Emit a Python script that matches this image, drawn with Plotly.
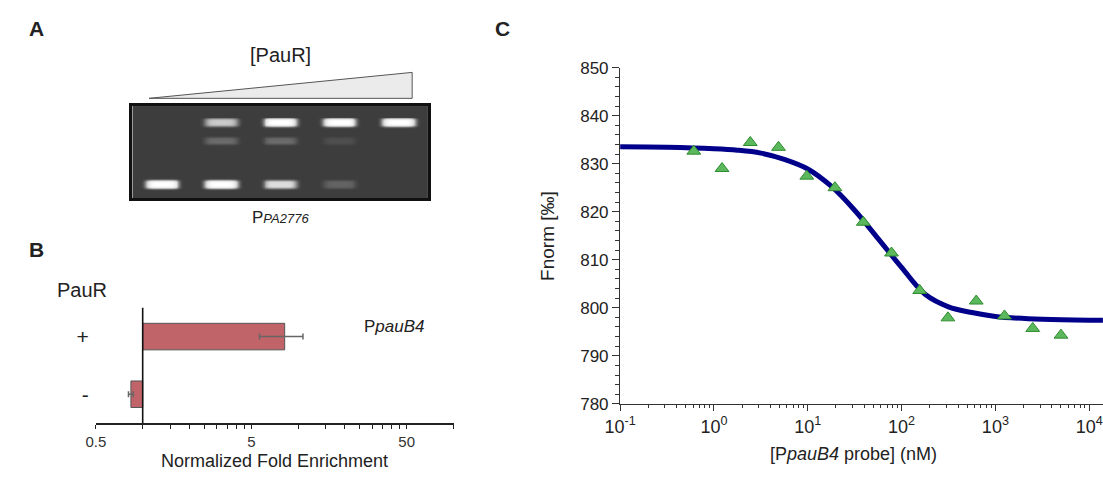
import numpy as np
import plotly.graph_objects as go

# ---- Panel A: EMSA gel (band intensities per lane) ----
gel_lanes = [1, 2, 3, 4, 5]
band_pos = [17, 36, 81]                      # complex, intermediate, free probe (gel rows)
complex_band = [0.0, 0.55, 1.0, 1.0, 1.0]
mid_band = [0.0, 0.18, 0.18, 0.07, 0.0]
free_band = [1.0, 1.0, 0.65, 0.15, 0.0]

# ---- Panel B: ChIP-qPCR ----
pau_labels = ["+", "-"]
fold_enrich = [8.2, 0.84]
fold_err = [2.55, 0.03]

# ---- Panel C: MST binding ----
probe_nM = [0.61, 1.22, 2.44, 4.88, 9.77, 19.5, 39.1, 78.1, 156, 312, 625, 1250, 2500, 5000]
fnorm = [832.6, 829.0, 834.4, 833.4, 827.4, 825.0, 817.8, 811.4, 803.6, 797.9, 801.4, 798.3, 795.7, 794.3]
fit_nM = [0.1, 0.316, 1, 1.78, 3.16, 5.62, 10, 17.8, 31.6, 56.2, 100, 178, 316, 562, 1000, 3162, 10000, 14000]
fit_fnorm = [833.5, 833.4, 833.1, 832.8, 832.2, 830.9, 828.9, 825.3, 820.3, 814.4, 808.4, 802.8, 800.2, 799.0, 798.2, 797.6, 797.4, 797.4]
c_exponents = [-1, 0, 1, 2, 3, 4]

# panel B axis ticks
b_labels = [0.5, 5, 50]
b_minor = [1, 1.5, 2, 2.5, 3, 3.5, 4, 4.5, 10, 15, 20, 25, 30, 35, 40, 45, 100]

FONT = "Liberation Sans, Arial, sans-serif"
W, H = 1103, 483


def px(x):
    return x / W


def py(y):
    return 1 - y / H


fig = go.Figure()

# gel image built from the band tables
gx = np.linspace(0.5, 5.5, 300)
gy = np.arange(0, 97, 1.0)
z = np.zeros((len(gy), len(gx)))
for pos, levels in zip(band_pos, [complex_band, mid_band, free_band]):
    for lane, lev in zip(gel_lanes, levels):
        z += lev * np.exp(-((gx - lane) / 0.28) ** 6)[None, :] * np.exp(-((gy - pos) / 4.3) ** 4)[:, None]
z = np.clip(z, 0, 1)
fig.add_trace(go.Heatmap(
    x=gx, y=gy, z=z, xaxis="x2", yaxis="y2",
    colorscale=[[0, "#3d3d3d"], [0.6, "#d8d8d8"], [1, "#ffffff"]], zmin=0, zmax=1,
    showscale=False, zsmooth="best", hoverinfo="skip"
))

# panel B bars
fig.add_trace(go.Bar(
    y=pau_labels, x=[v - 1 for v in fold_enrich], base=[1] * len(fold_enrich),
    orientation="h", width=0.46,
    marker=dict(color="#c0646a", line=dict(color="#555555", width=1)),
    xaxis="x", yaxis="y", showlegend=False, hoverinfo="skip"
))
fig.add_trace(go.Scatter(
    y=pau_labels, x=fold_enrich, mode="markers", marker=dict(opacity=0),
    error_x=dict(type="data", array=fold_err, color="#666666", thickness=1.5, width=3),
    xaxis="x", yaxis="y", showlegend=False, hoverinfo="skip"
))

# panel C fit and data
fig.add_trace(go.Scatter(
    x=fit_nM, y=fit_fnorm, mode="lines", line=dict(color="#00008b", width=5, shape="spline"),
    xaxis="x3", yaxis="y3", showlegend=False
))
fig.add_trace(go.Scatter(
    x=probe_nM, y=fnorm, mode="markers",
    marker=dict(symbol="triangle-up", size=12, color="#5cb85c", line=dict(color="#2e8b2e", width=1)),
    xaxis="x3", yaxis="y3", showlegend=False
))

c_major = [10.0 ** e for e in c_exponents]
c_text = [f"10<sup>{e}</sup>" for e in c_exponents]
c_minor = [m * 10.0 ** e for e in c_exponents for m in range(2, 10)]

fig.update_layout(
    width=W, height=H, margin=dict(l=0, r=0, t=0, b=0),
    paper_bgcolor="white", plot_bgcolor="rgba(0,0,0,0)",
    font=dict(family=FONT, color="#222222"),
    showlegend=False,
    # panel B
    xaxis=dict(domain=[px(81), px(444)], anchor="y", type="log",
               range=[np.log10(0.5) - 0.0005, 2.0005],
               tickmode="array", tickvals=b_labels, ticktext=[str(v) for v in b_labels],
               ticks="outside", ticklen=4, tickcolor="#222", tickwidth=1.3,
               minor=dict(tickmode="array", tickvals=b_minor, ticks="outside", ticklen=4,
                          tickcolor="#222", tickwidth=1.3),
               showline=True, linecolor="#222", linewidth=1.6, showgrid=False, zeroline=False,
               tickfont=dict(size=15, color="#333")),
    yaxis=dict(domain=[py(431), py(311)], anchor="x", type="category",
               categoryorder="array", categoryarray=["-", "+"], range=[-0.5, 1.5],
               showline=False, showgrid=False, ticks="", tickfont=dict(size=21, color="#222"),
               ticklabelstandoff=6),
    # panel A gel
    xaxis2=dict(domain=[px(118), px(418)], anchor="y2", range=[0.5, 5.5],
                tickmode="array", tickvals=[], showticklabels=False, ticks="",
                showgrid=False, zeroline=False,
                showline=True, mirror=True, linecolor="#111", linewidth=2.5),
    yaxis2=dict(domain=[py(197), py(101)], anchor="x2", range=[96, 0],
                tickmode="array", tickvals=[], showticklabels=False, ticks="",
                showgrid=False, zeroline=False,
                showline=True, mirror=True, linecolor="#111", linewidth=2.5),
    # panel C
    xaxis3=dict(domain=[px(613), 1.0], anchor="y3", type="log", range=[-1, 4.147],
                tickmode="array", tickvals=c_major, ticktext=c_text,
                ticks="outside", ticklen=6, tickcolor="#333", tickwidth=1.3,
                minor=dict(tickmode="array", tickvals=c_minor, ticks="outside", ticklen=3,
                           tickcolor="#333", tickwidth=1),
                showline=True, linecolor="#333", linewidth=1.3, showgrid=False, zeroline=False,
                tickfont=dict(size=18, color="#222")),
    xaxis4=dict(domain=[px(613), 1.0], anchor="y3", type="log", range=[-1, 4.147],
                overlaying="x3", tickmode="array", tickvals=[],
                ticks="inside", showticklabels=False,
                minor=dict(tickmode="array", tickvals=c_major + c_minor, ticks="inside", ticklen=4,
                           tickcolor="#333", tickwidth=1.1),
                showline=False, showgrid=False, zeroline=False),
    yaxis3=dict(domain=[py(411), py(61)], anchor="x3", range=[780, 850],
                tickmode="linear", tick0=780, dtick=10,
                ticks="outside", ticklen=7, tickcolor="#333", tickwidth=1.3,
                minor=dict(dtick=2, ticks="outside", ticklen=4, tickcolor="#333", tickwidth=1),
                showline=True, linecolor="#333", linewidth=1.3, showgrid=False, zeroline=False,
                tickfont=dict(size=17, color="#222")),
)

# x=1 reference line in panel B
fig.add_shape(type="line", xref="x", yref="y domain", x0=1, x1=1, y0=0, y1=1,
              line=dict(color="#111", width=1.6))

# concentration wedge above the gel
fig.add_shape(type="path", xref="paper", yref="paper",
              path=f"M {px(135)} {py(93)} L {px(402)} {py(66)} L {px(402)} {py(93)} Z",
              fillcolor="#ebebeb", line=dict(color="#555", width=1))

notes = [
    dict(x=px(11), y=py(20), text="<b>A</b>", size=21, xanchor="left"),
    dict(x=px(11), y=py(250), text="<b>B</b>", size=21, xanchor="left"),
    dict(x=px(484), y=py(20), text="<b>C</b>", size=21, xanchor="left"),
    dict(x=px(268), y=py(48), text="[PauR]", size=20, xanchor="center"),
    dict(x=px(268), y=py(217), text="P<i><span style='font-size:13px'>PA2776</span></i>", size=17, xanchor="center"),
    dict(x=px(40), y=py(292), text="PauR", size=20, xanchor="left"),
    dict(x=px(384), y=py(331), text="P<i>pauB4</i>", size=17, xanchor="center"),
    dict(x=px(262), y=py(470), text="Normalized Fold Enrichment", size=18, xanchor="center"),
    dict(x=px(850), y=py(463), text="[P<i>pauB4</i> probe] (nM)", size=18, xanchor="center"),
]
for n in notes:
    fig.add_annotation(x=n["x"], y=n["y"], xref="paper", yref="paper", text=n["text"],
                       showarrow=False, xanchor=n["xanchor"], yanchor="middle",
                       font=dict(family=FONT, size=n["size"], color="#222"))

fig.add_annotation(x=px(540), y=py(236), xref="paper", yref="paper", text="Fnorm [‰]",
                   showarrow=False, textangle=-90, xanchor="center", yanchor="middle",
                   font=dict(family=FONT, size=19, color="#222"))

pin = ("document.documentElement.style.margin='0';document.body.style.margin='0';"
       "document.body.style.padding='0';document.body.style.overflow='hidden';"
       "var d=document.getElementById('{plot_id}');d.style.position='absolute';"
       "d.style.left='0px';d.style.top='0px';")
fig.write_html("out.html", post_script=pin, config={"displayModeBar": False})
